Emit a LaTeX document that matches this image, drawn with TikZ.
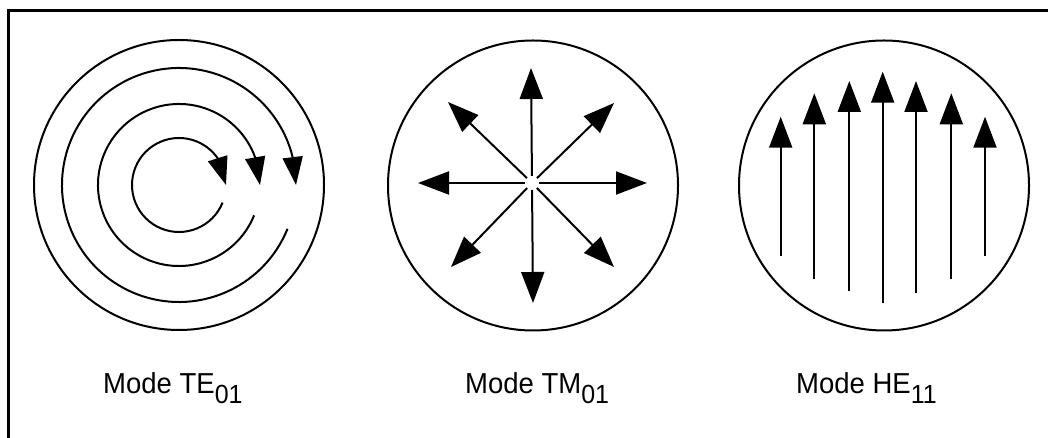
\documentclass[tikz,border=0pt]{standalone}
\usepackage{fontspec}
\setmainfont{Liberation Sans}
\usetikzlibrary{arrows.meta}
\tikzset{
  ring/.style={draw=black, line width=2pt},
  frameline/.style={draw=black, line width=3pt},
  tearr/.style={draw=black, line width=2pt, -{Triangle[length=28pt,width=20pt]}},
  arr/.style={draw=black, line width=2pt, -{Triangle[length=31pt,width=23pt]}},
  modelabel/.style={anchor=base west, inner sep=0pt, font=\fontsize{27.5}{28}\selectfont},
}
\newcommand{\modesub}[1]{\raisebox{-9.5pt}{\fontsize{25}{25}\selectfont #1}}
\newcommand{\modetext}[1]{\scalebox{1}[1.05]{#1}}
\begin{document}
\begin{tikzpicture}[x=1pt,y=1pt]
\useasboundingbox (0,0) rectangle (1048,438);
% frame (only top and left visible)
\coordinate (fbl) at (8,-2);
\coordinate (ftl) at (8,427);
\coordinate (ftr) at (1050,427);
\draw[frameline] (fbl) -- (ftl) -- (ftr);

% ---------- TE01 ----------
\coordinate (tec) at (179,253);
\draw[ring] (tec) circle[radius=145];
% each spiral turn: arc, then the head along the chord to the tip at angle 0
\foreach \r/\p in {117/13.7, 81/20, 47/34.7}{
  \coordinate (tes\r) at ([shift={(-22:\r)}]tec);
  \coordinate (tet\r) at ([shift={(0:\r)}]tec);
  \draw[tearr] (tes\r) arc[start angle=-22, end angle={-360+\p}, radius=\r] -- (tet\r);
}

% ---------- TM01 ----------
\coordinate (tmo) at (533,252.5);
\draw[ring] (tmo) circle[radius=145];
\coordinate (tmc) at (532,255);
\coordinate (tmU) at (531,370);
\coordinate (tmD) at (533,135);
\coordinate (tmL) at (418,255);
\coordinate (tmR) at (647,255);
\coordinate (tmUL) at (448,336);
\coordinate (tmUR) at (614,335);
\coordinate (tmLL) at (451,171);
\coordinate (tmLR) at (614,171);
\foreach \t in {tmU,tmD,tmL,tmR,tmUL,tmUR,tmLL,tmLR}
  \draw[arr, shorten <=7pt] (tmc) -- (\t);

% ---------- HE11 ----------
\coordinate (heo) at (884,252.5);
\draw[ring] (heo) circle[radius=145];
\foreach \i/\x/\yt/\yb in {1/780.7/321.3/182, 2/814.3/344.7/158.7, 3/849.3/357/147, 4/882.7/366.3/134.7, 5/916/357/144.7, 6/951.3/344.7/158.7, 7/985/321.3/182}{
  \coordinate (heb\i) at (\x,\yb);
  \coordinate (het\i) at (\x,\yt);
  \draw[arr] (heb\i) -- (het\i);
}

% ---------- labels ----------
\node[modelabel] (lte) at (103,44.5) {\modetext{Mode TE\modesub{01}}};
\node[modelabel] (ltm) at (465,44.5) {\modetext{Mode TM\modesub{01}}};
\node[modelabel] (lhe) at (796,44.5) {\modetext{Mode HE\modesub{11}}};
\end{tikzpicture}
\end{document}
